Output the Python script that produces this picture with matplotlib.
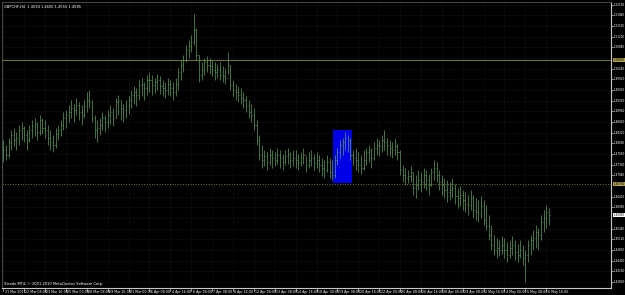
import matplotlib
matplotlib.use("Agg")
import matplotlib.pyplot as plt
import matplotlib.transforms as mtransforms
from matplotlib.patches import Rectangle

symbol = "GBPCHF,H4"

# H4 bars (one value per bar)
highs = [
    1.4810, 1.4795, 1.4816, 1.4840, 1.4846, 1.4834, 1.4855, 1.4864,
    1.4852, 1.4840, 1.4855, 1.4870, 1.4876, 1.4864, 1.4885, 1.4876,
    1.4870, 1.4855, 1.4840, 1.4825, 1.4846, 1.4855, 1.4870, 1.4894,
    1.4900, 1.4915, 1.4930, 1.4918, 1.4936, 1.4924, 1.4915, 1.4930,
    1.4954, 1.4960, 1.4930, 1.4885, 1.4870, 1.4876, 1.4894, 1.4885,
    1.4900, 1.4915, 1.4906, 1.4936, 1.4945, 1.4930, 1.4918, 1.4930,
    1.4942, 1.4960, 1.4972, 1.4966, 1.4990, 1.4996, 1.4984, 1.5005,
    1.5014, 1.5005, 1.4996, 1.5008, 1.5002, 1.4990, 1.4984, 1.4996,
    1.4990, 1.4984, 1.4996, 1.5026, 1.5050, 1.5065, 1.5095, 1.5110,
    1.5125, 1.5188, 1.5146, 1.5065, 1.5044, 1.5056, 1.5062, 1.5056,
    1.5050, 1.5044, 1.5038, 1.5044, 1.5032, 1.5026, 1.5074, 1.5035,
    1.4990, 1.4978, 1.4972, 1.4966, 1.4954, 1.4942, 1.4930, 1.4918,
    1.4906, 1.4870, 1.4825, 1.4795, 1.4780, 1.4774, 1.4786, 1.4780,
    1.4774, 1.4786, 1.4780, 1.4768, 1.4780, 1.4786, 1.4774, 1.4780,
    1.4780, 1.4768, 1.4774, 1.4786, 1.4762, 1.4774, 1.4780, 1.4768,
    1.4774, 1.4765, 1.4756, 1.4750, 1.4765, 1.4756, 1.4750, 1.4765,
    1.4786, 1.4810, 1.4816, 1.4834, 1.4825, 1.4816, 1.4780, 1.4786,
    1.4774, 1.4765, 1.4780, 1.4786, 1.4795, 1.4786, 1.4804, 1.4816,
    1.4810, 1.4825, 1.4840, 1.4816, 1.4810, 1.4804, 1.4816, 1.4798,
    1.4780, 1.4735, 1.4726, 1.4720, 1.4732, 1.4714, 1.4705, 1.4720,
    1.4714, 1.4726, 1.4720, 1.4708, 1.4726, 1.4750, 1.4744, 1.4720,
    1.4705, 1.4696, 1.4690, 1.4684, 1.4696, 1.4678, 1.4666, 1.4672,
    1.4660, 1.4654, 1.4645, 1.4660, 1.4645, 1.4636, 1.4630, 1.4642,
    1.4630, 1.4615, 1.4585, 1.4555, 1.4525, 1.4516, 1.4510, 1.4522,
    1.4516, 1.4504, 1.4510, 1.4522, 1.4510, 1.4498, 1.4510, 1.4495,
    1.4480, 1.4510, 1.4525, 1.4540, 1.4555, 1.4546, 1.4585, 1.4600,
    1.4615, 1.4606,
]
lows = [
    1.4744, 1.4750, 1.4756, 1.4780, 1.4792, 1.4780, 1.4795, 1.4810,
    1.4804, 1.4780, 1.4804, 1.4816, 1.4822, 1.4810, 1.4825, 1.4828,
    1.4816, 1.4795, 1.4780, 1.4774, 1.4786, 1.4810, 1.4822, 1.4840,
    1.4846, 1.4864, 1.4876, 1.4864, 1.4885, 1.4870, 1.4855, 1.4876,
    1.4894, 1.4906, 1.4864, 1.4816, 1.4804, 1.4825, 1.4840, 1.4834,
    1.4846, 1.4858, 1.4852, 1.4876, 1.4885, 1.4870, 1.4864, 1.4876,
    1.4888, 1.4906, 1.4918, 1.4912, 1.4930, 1.4942, 1.4930, 1.4945,
    1.4954, 1.4945, 1.4951, 1.4960, 1.4948, 1.4942, 1.4936, 1.4945,
    1.4942, 1.4930, 1.4942, 1.4960, 1.4990, 1.5014, 1.5044, 1.5056,
    1.5074, 1.5095, 1.5050, 1.4984, 1.4990, 1.5005, 1.5014, 1.5008,
    1.5002, 1.4990, 1.4996, 1.4990, 1.4984, 1.4978, 1.5008, 1.4960,
    1.4942, 1.4930, 1.4924, 1.4918, 1.4906, 1.4894, 1.4876, 1.4864,
    1.4840, 1.4795, 1.4750, 1.4726, 1.4732, 1.4720, 1.4735, 1.4726,
    1.4732, 1.4738, 1.4726, 1.4720, 1.4735, 1.4738, 1.4726, 1.4732,
    1.4726, 1.4720, 1.4732, 1.4738, 1.4714, 1.4726, 1.4732, 1.4720,
    1.4726, 1.4714, 1.4702, 1.4696, 1.4714, 1.4696, 1.4690, 1.4696,
    1.4735, 1.4756, 1.4765, 1.4780, 1.4774, 1.4750, 1.4735, 1.4720,
    1.4714, 1.4708, 1.4720, 1.4735, 1.4744, 1.4726, 1.4750, 1.4765,
    1.4762, 1.4774, 1.4780, 1.4765, 1.4762, 1.4756, 1.4765, 1.4750,
    1.4705, 1.4684, 1.4675, 1.4681, 1.4684, 1.4645, 1.4636, 1.4660,
    1.4654, 1.4666, 1.4660, 1.4645, 1.4672, 1.4690, 1.4684, 1.4660,
    1.4645, 1.4636, 1.4624, 1.4630, 1.4636, 1.4618, 1.4606, 1.4612,
    1.4600, 1.4594, 1.4585, 1.4600, 1.4576, 1.4570, 1.4564, 1.4576,
    1.4555, 1.4540, 1.4510, 1.4480, 1.4465, 1.4456, 1.4462, 1.4468,
    1.4456, 1.4444, 1.4456, 1.4465, 1.4450, 1.4444, 1.4456, 1.4435,
    1.4384, 1.4444, 1.4465, 1.4480, 1.4486, 1.4480, 1.4510, 1.4534,
    1.4546, 1.4555,
]
closes = [
    1.4780, 1.4765, 1.4804, 1.4825, 1.4810, 1.4816, 1.4840, 1.4846,
    1.4825, 1.4810, 1.4840, 1.4852, 1.4858, 1.4834, 1.4870, 1.4846,
    1.4840, 1.4816, 1.4804, 1.4795, 1.4828, 1.4840, 1.4855, 1.4876,
    1.4885, 1.4894, 1.4906, 1.4900, 1.4915, 1.4894, 1.4885, 1.4912,
    1.4930, 1.4924, 1.4876, 1.4840, 1.4846, 1.4855, 1.4876, 1.4864,
    1.4885, 1.4894, 1.4876, 1.4924, 1.4930, 1.4906, 1.4900, 1.4912,
    1.4930, 1.4945, 1.4954, 1.4945, 1.4975, 1.4978, 1.4966, 1.4990,
    1.4990, 1.4975, 1.4984, 1.4990, 1.4972, 1.4966, 1.4960, 1.4978,
    1.4966, 1.4954, 1.4978, 1.5014, 1.5035, 1.5050, 1.5080, 1.5092,
    1.5104, 1.5140, 1.5065, 1.5005, 1.5020, 1.5044, 1.5035, 1.5032,
    1.5020, 1.5014, 1.5020, 1.5005, 1.5002, 1.4996, 1.5035, 1.4975,
    1.4960, 1.4954, 1.4945, 1.4936, 1.4930, 1.4912, 1.4894, 1.4885,
    1.4855, 1.4810, 1.4765, 1.4750, 1.4762, 1.4744, 1.4765, 1.4756,
    1.4750, 1.4765, 1.4756, 1.4744, 1.4762, 1.4768, 1.4750, 1.4756,
    1.4750, 1.4744, 1.4756, 1.4765, 1.4735, 1.4750, 1.4756, 1.4741,
    1.4750, 1.4735, 1.4726, 1.4720, 1.4744, 1.4714, 1.4705, 1.4750,
    1.4774, 1.4795, 1.4804, 1.4816, 1.4810, 1.4765, 1.4756, 1.4750,
    1.4735, 1.4726, 1.4750, 1.4774, 1.4780, 1.4756, 1.4786, 1.4795,
    1.4792, 1.4810, 1.4804, 1.4795, 1.4786, 1.4780, 1.4792, 1.4774,
    1.4720, 1.4705, 1.4696, 1.4702, 1.4714, 1.4666, 1.4675, 1.4690,
    1.4684, 1.4705, 1.4690, 1.4675, 1.4714, 1.4726, 1.4705, 1.4684,
    1.4675, 1.4660, 1.4654, 1.4660, 1.4666, 1.4642, 1.4636, 1.4645,
    1.4630, 1.4618, 1.4615, 1.4636, 1.4600, 1.4594, 1.4588, 1.4612,
    1.4570, 1.4552, 1.4525, 1.4495, 1.4480, 1.4486, 1.4480, 1.4495,
    1.4480, 1.4465, 1.4486, 1.4495, 1.4474, 1.4465, 1.4480, 1.4456,
    1.4465, 1.4495, 1.4510, 1.4516, 1.4534, 1.4525, 1.4564, 1.4576,
    1.4594, 1.4585,
]

time_labels = [
    "21 Mar 2011", "22 Mar 08:00", "23 Mar 16:00", "25 Mar 00:00", "28 Mar 08:00",
    "29 Mar 16:00", "31 Mar 00:00", "1 Apr 08:00", "4 Apr 16:00", "6 Apr 00:00",
    "7 Apr 08:00", "8 Apr 16:00", "12 Apr 00:00", "13 Apr 08:00", "14 Apr 16:00",
    "18 Apr 00:00", "19 Apr 08:00", "20 Apr 16:00", "22 Apr 00:00", "25 Apr 08:00",
    "26 Apr 16:00", "28 Apr 00:00", "29 Apr 08:00", "2 May 16:00", "4 May 00:00",
    "5 May 08:00", "6 May 16:00",
]
bars_per_label = 8

levels = [1.5050, 1.4678]
level_styles = ["-", ":"]

zone_first_bar = 127
zone_last_bar = 134
zone_top = 1.4840
zone_bottom = 1.4681

y_min, y_max = 1.4366, 1.5224
price_step = 0.0032

bar_color = "#5e9e5e"
axis_color = "#c8c8c8"
grid_color = "#262626"
level_color = "#7a7a30"

n = len(closes)
opens = [closes[0]] + closes[:-1]
xs = list(range(n))

fig = plt.figure(figsize=(6.25, 2.95), dpi=100, facecolor="black")
ax = fig.add_axes([2 / 625, 7 / 295, 609 / 625, 286 / 295], facecolor="black")
ax.set_xlim(-0.5, 232.8)
ax.set_ylim(y_min, y_max)

# dotted grid
label_pos = [i * bars_per_label for i in range(len(time_labels))]
for p in label_pos:
    ax.axvline(p, color=grid_color, lw=0.5, ls=(0, (1, 2)), zorder=0)
ticks = []
t = y_max - 0.0008
while t > y_min:
    ticks.append(t)
    t -= price_step
for t in ticks:
    ax.axhline(t, color=grid_color, lw=0.5, ls=(0, (1, 2)), zorder=0)

# zone
ax.add_patch(Rectangle((zone_first_bar - 0.6, zone_bottom), zone_last_bar - zone_first_bar,
                       zone_top - zone_bottom, facecolor="#0000e6", edgecolor="none", zorder=1))

# levels
for lv, ls in zip(levels, level_styles):
    ax.axhline(lv, color=level_color, lw=0.7, ls=ls, zorder=1)

# OHLC bars
ax.vlines(xs, lows, highs, color=bar_color, lw=0.5, zorder=2)
ax.hlines(opens, [x - 0.4 for x in xs], xs, color=bar_color, lw=0.4, zorder=2)
ax.hlines(closes, xs, [x + 0.4 for x in xs], color=bar_color, lw=0.4, zorder=2)

for s in ["left", "top"]:
    ax.spines[s].set_color("#555555")
    ax.spines[s].set_linewidth(0.6)
for s in ["right", "bottom"]:
    ax.spines[s].set_color(axis_color)
    ax.spines[s].set_linewidth(0.8)

ax.set_xticks([])
ax.set_yticks([])

# price scale on the right
ytr = mtransforms.blended_transform_factory(ax.transAxes, ax.transData)
for t in ticks:
    if any(abs(t - lv) < 0.0015 for lv in levels + [closes[-1]]):
        continue
    ax.plot([1.0, 1.003], [t, t], color=axis_color, lw=0.5, transform=ytr, clip_on=False)
    ax.text(1.004, t, f"{t:.5f}", transform=ytr, color="white", fontsize=2.0,
            va="center", ha="left")
for lv in levels:
    ax.text(1.004, lv, f"{lv:.5f}", transform=ytr, color="black", fontsize=2.0, va="center",
            ha="left", bbox=dict(boxstyle="square,pad=0.15", fc="#b0a050", ec="none"))
ax.text(1.004, closes[-1], f"{closes[-1]:.5f}", transform=ytr, color="black", fontsize=2.0,
        va="center", ha="left", bbox=dict(boxstyle="square,pad=0.15", fc="white", ec="none"))

# time scale at the bottom
xtr = mtransforms.blended_transform_factory(ax.transData, ax.transAxes)
for p, lab in zip(label_pos, time_labels):
    ax.plot([p, p], [0, -0.01], color=axis_color, lw=0.5, transform=xtr, clip_on=False)
    ax.text(p + 0.5, -0.008, lab, transform=xtr, color="white", fontsize=2.3,
            va="top", ha="left")

header = f"{symbol}  {opens[-1]:.4f} {highs[-1]:.4f} {lows[-1]:.4f} {closes[-1]:.4f}"
ax.text(0.004, 0.988, header, transform=ax.transAxes, color="white", fontsize=2.6,
        va="top", ha="left")
ax.text(0.004, 0.008, "Xtrade MT4, \u00a9 2001-2010 MetaQuotes Software Corp.",
        transform=ax.transAxes, color="white", fontsize=2.6, va="bottom", ha="left")

fig.savefig("out.png", dpi=100, facecolor="black")
